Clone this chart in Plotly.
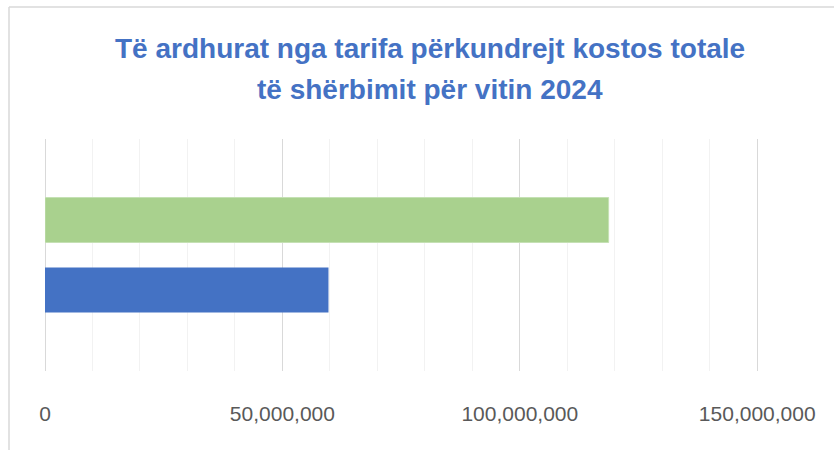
import plotly.graph_objects as go

# Data
category = ["2024"]
series_names = ["Të ardhurat nga tarifa", "Kostot totale të shërbimit"]
revenue = [59700000]
total_cost = [118700000]
tick_vals = [0, 50000000, 100000000, 150000000]
tick_text = ["0", "50,000,000", "100,000,000", "150,000,000"]
title_lines = ["Të ardhurat nga tarifa përkundrejt kostos totale",
               "të shërbimit për vitin 2024"]
x_max = 151000000

W, H = 834, 450
L, R, T, B = 45, 72, 139, 79
pw = W - L - R
ph = H - T - B

def px_x(p):
    return (p - L) / pw

def px_y(p):
    return (H - B - p) / ph

fig = go.Figure()
fig.add_trace(go.Bar(y=category, x=revenue, orientation="h", name=series_names[0],
                     marker=dict(color="#4472C4", line=dict(width=0))))
fig.add_trace(go.Bar(y=category, x=total_cost, orientation="h", name=series_names[1],
                     marker=dict(color="#A9D18E", line=dict(color="#C5E0B4", width=1))))

fig.update_layout(
    width=W, height=H,
    margin=dict(l=L, r=R, t=T, b=B, pad=0),
    barmode="group", bargap=0.397, bargroupgap=0.357,
    showlegend=False,
    plot_bgcolor="white", paper_bgcolor="white",
    font=dict(family="Liberation Sans", color="#595959"),
)
for txt, yc in zip(title_lines, [48, 90]):
    fig.add_annotation(text="<b>" + txt + "</b>", xref="paper", yref="paper",
                       x=px_x(430), y=px_y(yc), xanchor="center", yanchor="middle",
                       showarrow=False,
                       font=dict(family="Liberation Sans", size=28, color="#4472C4"))

fig.update_xaxes(range=[0, x_max], tickvals=tick_vals, ticktext=tick_text,
                 tickfont=dict(size=21, color="#595959"), ticklabelstandoff=28,
                 showgrid=True, gridcolor="#D9D9D9", gridwidth=1,
                 minor=dict(dtick=10000000, showgrid=True, gridcolor="#F2F2F2", gridwidth=1),
                 zeroline=True, zerolinecolor="#D9D9D9", zerolinewidth=1,
                 showline=False, ticks="")
fig.update_yaxes(showticklabels=False, showgrid=False, zeroline=False, showline=False)

# chart border (top and left edges)
fig.add_shape(type="line", xref="paper", yref="paper", x0=px_x(9), x1=px_x(834), y0=px_y(7), y1=px_y(7),
              line=dict(color="#D9D9D9", width=1.5))
fig.add_shape(type="line", xref="paper", yref="paper", x0=px_x(9), x1=px_x(9), y0=px_y(7), y1=px_y(450),
              line=dict(color="#D9D9D9", width=1.5))

fig.write_html("out.html", config={"displayModeBar": False},
               post_script="document.body.style.margin='0';")
